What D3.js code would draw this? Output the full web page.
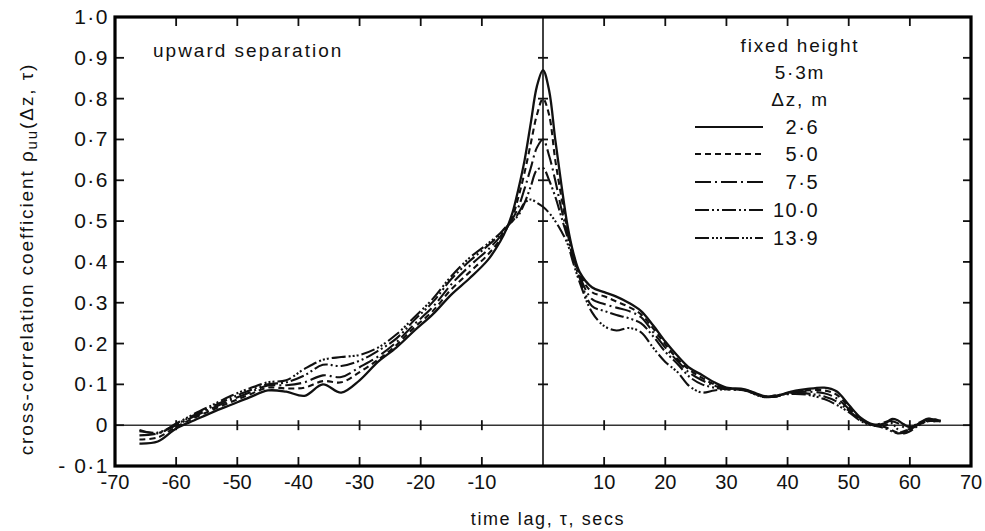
<!DOCTYPE html>
<html>
<head>
<meta charset="utf-8">
<script src="https://cdn.jsdelivr.net/npm/d3@7"></script>
<style>
  html, body { margin: 0; padding: 0; background: #fff; }
  svg { display: block; }
  text { font-family: "Liberation Sans", Arial, sans-serif; fill: #111; }
</style>
</head>
<body>
<svg id="chart" width="985" height="531"></svg>
<script>
// Time lag (s) at which every curve is sampled
const tau = [-66, -63, -60, -57, -54, -51, -48, -45, -42, -39, -36, -33, -30, -27, -24, -21, -18, -15, -12, -9, -7, -6, -5, -4, -3, -2, -1, 0, 1, 2, 3, 4, 5, 6, 8, 10, 12, 14, 16, 18, 20, 22, 24, 26, 28, 30, 33, 36, 38, 40, 43, 46, 48, 50, 52, 54, 56, 57, 58, 59, 60, 61, 62, 63, 64, 65];

// Cross-correlation coefficient for each vertical separation Δz
const dz26 = [-0.045, -0.04, -0.008, 0.012, 0.032, 0.05, 0.068, 0.085, 0.082, 0.072, 0.1, 0.08, 0.11, 0.155, 0.19, 0.232, 0.272, 0.32, 0.36, 0.405, 0.45, 0.48, 0.52, 0.58, 0.65, 0.74, 0.83, 0.87, 0.82, 0.70, 0.59, 0.49, 0.42, 0.375, 0.338, 0.326, 0.315, 0.30, 0.28, 0.245, 0.205, 0.17, 0.14, 0.123, 0.105, 0.092, 0.088, 0.072, 0.07, 0.08, 0.088, 0.092, 0.083, 0.05, 0.018, 0.002, 0.005, 0.015, 0.012, 0.002, -0.005, 0, 0.008, 0.015, 0.014, 0.01];
const dz50 = [-0.035, -0.03, -0.004, 0.018, 0.038, 0.057, 0.075, 0.092, 0.09, 0.092, 0.108, 0.105, 0.13, 0.16, 0.196, 0.24, 0.28, 0.333, 0.375, 0.418, 0.455, 0.48, 0.51, 0.56, 0.62, 0.69, 0.76, 0.80, 0.76, 0.65, 0.56, 0.48, 0.415, 0.37, 0.326, 0.316, 0.303, 0.29, 0.272, 0.237, 0.198, 0.162, 0.135, 0.116, 0.1, 0.09, 0.087, 0.071, 0.07, 0.079, 0.085, 0.085, 0.075, 0.045, 0.016, 0.001, -0.005, -0.012, -0.018, -0.015, -0.008, 0, 0.006, 0.01, 0.01, 0.01];
const dz75 = [-0.025, -0.02, 0, 0.022, 0.042, 0.062, 0.08, 0.097, 0.098, 0.105, 0.122, 0.118, 0.142, 0.168, 0.203, 0.248, 0.29, 0.345, 0.39, 0.43, 0.462, 0.482, 0.505, 0.535, 0.58, 0.63, 0.68, 0.70, 0.66, 0.60, 0.53, 0.47, 0.41, 0.365, 0.309, 0.297, 0.288, 0.28, 0.265, 0.228, 0.19, 0.157, 0.128, 0.11, 0.097, 0.089, 0.086, 0.07, 0.07, 0.078, 0.082, 0.078, 0.066, 0.04, 0.014, 0, 0.008, 0.01, 0.005, -0.005, -0.01, -0.002, 0.005, 0.012, 0.012, 0.01];
const dz100 = [-0.015, -0.018, 0.002, 0.025, 0.046, 0.067, 0.085, 0.1, 0.105, 0.122, 0.148, 0.145, 0.158, 0.182, 0.212, 0.258, 0.302, 0.358, 0.402, 0.44, 0.468, 0.485, 0.5, 0.515, 0.545, 0.585, 0.625, 0.63, 0.60, 0.56, 0.51, 0.46, 0.405, 0.36, 0.292, 0.28, 0.27, 0.262, 0.25, 0.218, 0.18, 0.15, 0.118, 0.1, 0.092, 0.088, 0.085, 0.07, 0.072, 0.077, 0.078, 0.07, 0.058, 0.036, 0.012, 0, -0.008, -0.015, -0.02, -0.018, -0.01, 0.002, 0.01, 0.016, 0.014, 0.012];
const dz139 = [-0.012, -0.02, 0.004, 0.028, 0.05, 0.072, 0.09, 0.105, 0.11, 0.138, 0.16, 0.167, 0.172, 0.19, 0.222, 0.265, 0.31, 0.365, 0.41, 0.445, 0.47, 0.487, 0.5, 0.52, 0.545, 0.553, 0.545, 0.535, 0.52, 0.50, 0.475, 0.445, 0.395, 0.35, 0.277, 0.243, 0.232, 0.238, 0.228, 0.19, 0.155, 0.13, 0.095, 0.08, 0.085, 0.088, 0.085, 0.069, 0.073, 0.076, 0.075, 0.064, 0.05, 0.032, 0.01, -0.001, 0, 0.005, -0.01, -0.02, -0.015, -0.005, 0.004, 0.01, 0.01, 0.01];

const dzLabels = ["2·6", "5·0", "7·5", "10·0", "13·9"];
const dzSeries = [dz26, dz50, dz75, dz100, dz139];
const dzDashes = ["none", "6,4", "16,4,2,4", "14,3,2,3,2,3", "14,3,2,2,2,2,2,3"];

const xTicks = [-70, -60, -50, -40, -30, -20, -10, 10, 20, 30, 40, 50, 60, 70];
const yTicks = [1.0, 0.9, 0.8, 0.7, 0.6, 0.5, 0.4, 0.3, 0.2, 0.1, 0, -0.1];
const yTickLabels = ["1·0", "0·9", "0·8", "0·7", "0·6", "0·5", "0·4", "0·3", "0·2", "0·1", "0", "- 0·1"];

const svg = d3.select("#chart");
const plotL = 115, plotR = 971, plotT = 17, plotB = 466;

const x = d3.scaleLinear().domain([-70, 70]).range([plotL, plotR]);
const y = d3.scaleLinear().domain([-0.1, 1.0]).range([plotB, plotT]);

const ink = "#111";

// Reference lines: zero correlation and zero lag
svg.append("line")
  .attr("x1", plotL).attr("x2", plotR).attr("y1", y(0)).attr("y2", y(0))
  .attr("stroke", "#333").attr("stroke-width", 1.6);
svg.append("line")
  .attr("x1", x(0)).attr("x2", x(0)).attr("y1", plotT).attr("y2", plotB)
  .attr("stroke", ink).attr("stroke-width", 1.6);

const xInner = x.ticks(14).filter(v => v > -70 && v < 70 && v !== 0);
const yInner = y.ticks(11).filter(v => v > -0.1 && v < 1.0 && v !== 0);

const ticks = svg.append("g").attr("stroke", ink).attr("stroke-width", 1.8);

// Inward ticks on the top and bottom of the frame
ticks.selectAll(".tt").data(xInner).join("line").attr("class", "tt")
  .attr("x1", d => x(d)).attr("x2", d => x(d))
  .attr("y1", plotT).attr("y2", plotT + 9);
ticks.selectAll(".tb").data(xInner).join("line").attr("class", "tb")
  .attr("x1", d => x(d)).attr("x2", d => x(d))
  .attr("y1", plotB).attr("y2", plotB - 9);
// Inward ticks on the left and right of the frame
ticks.selectAll(".tl").data(yInner.concat([0])).join("line").attr("class", "tl")
  .attr("x1", plotL).attr("x2", plotL + 9)
  .attr("y1", d => y(d)).attr("y2", d => y(d));
ticks.selectAll(".tr").data(yInner.concat([0])).join("line").attr("class", "tr")
  .attr("x1", plotR).attr("x2", plotR - 8)
  .attr("y1", d => y(d)).attr("y2", d => y(d));
// Crossing ticks on the zero lines
ticks.selectAll(".tz").data(xInner).join("line").attr("class", "tz")
  .attr("x1", d => x(d)).attr("x2", d => x(d))
  .attr("y1", y(0) - 5).attr("y2", y(0) + 5);
ticks.selectAll(".tc").data(yInner).join("line").attr("class", "tc")
  .attr("x1", x(0) - 5).attr("x2", x(0) + 5)
  .attr("y1", d => y(d)).attr("y2", d => y(d));

// Curves
const line = d3.line()
  .x(d => x(d[0]))
  .y(d => y(d[1]))
  .curve(d3.curveCatmullRom.alpha(0.5));

dzSeries.forEach((vals, i) => {
  svg.append("path")
    .datum(tau.map((t, k) => [t, vals[k]]))
    .attr("d", line)
    .attr("fill", "none")
    .attr("stroke", ink)
    .attr("stroke-width", i === 0 ? 2.3 : 2.1)
    .attr("stroke-dasharray", dzDashes[i])
    .attr("stroke-linejoin", "round");
});

// Frame
svg.append("rect")
  .attr("x", plotL).attr("y", plotT)
  .attr("width", plotR - plotL).attr("height", plotB - plotT)
  .attr("fill", "none").attr("stroke", "#000").attr("stroke-width", 3.2);

// Tick labels
svg.append("g").selectAll("text").data(yTicks).join("text")
  .attr("x", 109).attr("y", d => y(d) + 7)
  .attr("text-anchor", "end")
  .attr("font-size", 21).attr("letter-spacing", 1.5)
  .text((d, i) => yTickLabels[i]);

svg.append("g").selectAll("text").data(xTicks).join("text")
  .attr("x", d => x(d)).attr("y", 489)
  .attr("text-anchor", "middle")
  .attr("font-size", 20)
  .text(d => String(d));

// Axis titles
svg.append("text")
  .attr("x", 548).attr("y", 525)
  .attr("text-anchor", "middle").attr("font-size", 18).attr("letter-spacing", 1.6)
  .text("time lag, τ, secs");

const yt = svg.append("text")
  .attr("transform", "translate(33,259) rotate(-90)")
  .attr("text-anchor", "middle").attr("font-size", 19).attr("letter-spacing", 1.9);
yt.append("tspan").text("cross-correlation  coefficient  ρ");
yt.append("tspan").attr("font-size", 15).attr("dy", 4).text("uu");
yt.append("tspan").attr("dy", -4).text("(Δz, τ)");

svg.append("text")
  .attr("x", 153).attr("y", 57)
  .attr("font-size", 19).attr("letter-spacing", 2)
  .text("upward separation");

// Legend
const legendHead = ["fixed height", "5·3m", "Δz, m"];
svg.append("g").selectAll("text").data(legendHead).join("text")
  .attr("x", 800).attr("y", (d, i) => 52 + i * 27)
  .attr("text-anchor", "middle").attr("font-size", 19).attr("letter-spacing", 1.8)
  .text(d => d);

const legendY = [127, 154, 182, 210, 238];
const lg = svg.append("g");
dzLabels.forEach((lab, i) => {
  lg.append("line")
    .attr("x1", 695).attr("x2", 763)
    .attr("y1", legendY[i]).attr("y2", legendY[i])
    .attr("stroke", ink).attr("stroke-width", 2.2)
    .attr("stroke-dasharray", dzDashes[i]);
  lg.append("text")
    .attr("x", 819).attr("y", legendY[i] + 7)
    .attr("text-anchor", "end").attr("font-size", 20).attr("letter-spacing", 1.5)
    .text(lab);
});
</script>
</body>
</html>
